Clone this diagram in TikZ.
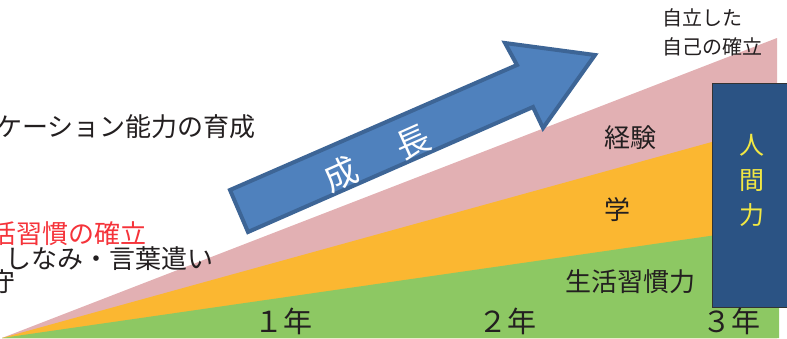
\documentclass[tikz,border=0pt]{standalone}
\usepackage{fontspec}
\setmainfont{Noto Sans CJK JP}
\definecolor{pinkc}{HTML}{E2B0B3}
\definecolor{orangec}{HTML}{FBB731}
\definecolor{greenc}{HTML}{8DC863}
\definecolor{boxc}{HTML}{2B5384}
\definecolor{arrowc}{HTML}{4F81BD}
\definecolor{arrowb}{HTML}{3D6596}
\definecolor{yellowc}{HTML}{F2E843}
\definecolor{redc}{HTML}{F5333A}
\definecolor{textc}{HTML}{231F20}
\tikzset{
  lbl/.style={inner sep=0pt, text=textc, font=\fontsize{26}{26}\selectfont},
  yearlbl/.style={inner sep=0pt, text=textc, font=\fontsize{29}{29}\selectfont},
  smalllbl/.style={inner sep=0pt, text=textc, font=\fontsize{20}{20}\selectfont, anchor=west},
}
\begin{document}
\begin{tikzpicture}[x=1pt,y=-1pt]
\useasboundingbox (0,0) rectangle (787,338);
% layered wedges
\fill[pinkc] (2,338) -- (777,38) -- (777,338) -- cycle;
\fill[orangec] (2,338) -- (777,124) -- (777,338) -- cycle;
\fill[greenc] (2,338) -- (779,226) -- (779,338) -- cycle;
% growth arrow
\draw[arrowb, fill=arrowc, line width=4pt, line join=miter]
  (230,190) -- (517,65) -- (505,43) -- (595,55) -- (543,128) -- (533,107) -- (248,232) -- cycle;
\node[inner sep=0pt, text=white, rotate=24, font=\fontsize{34}{34}\selectfont] (growth) at (377,158) {成\hspace{1.3em}長};
% human power box
\node[draw=black!80, line width=0.6pt, fill=boxc, minimum width=80pt, minimum height=224pt, inner sep=0pt, anchor=north west] (box) at (712,83) {};
\node[inner sep=0pt, text=yellowc, font=\fontsize{25}{35}\selectfont, align=center] (hp) at (752,180) {人\\間\\力};
% layer labels
\node[lbl] (keiken) at (630,138) {経験};
\node[lbl] (manabi) at (617,210) {学};
\node[lbl] (seikatsu) at (630,282) {生活習慣力};
% years
\node[yearlbl] (y1) at (283,321) {１年};
\node[yearlbl] (y2) at (507,321) {２年};
\node[yearlbl] (y3) at (731,321) {３年};
% top right
\node[smalllbl] (jiritsu1) at (662,18) {自立した};
\node[smalllbl] (jiritsu2) at (662,47) {自己の確立};
% left texts
\node[lbl, anchor=east] (comm) at (256,127) {ケーション能力の育成};
\node[lbl, anchor=east, text=redc] (habit) at (147,234) {活習慣の確立};
\node[lbl, anchor=east] (manner) at (214,259) {しなみ・言葉遣い};
\node[lbl, anchor=east] (mamoru) at (16,282) {守};
\end{tikzpicture}
\end{document}
